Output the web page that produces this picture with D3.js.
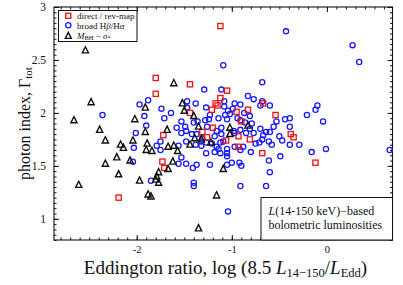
<!DOCTYPE html>
<html>
<head>
<meta charset="utf-8">
<script src="https://cdn.jsdelivr.net/npm/d3@7"></script>
<style>
body { margin:0; background:#fff; }
svg text { font-family: "Liberation Serif", "DejaVu Serif", serif; fill:#111; }
</style>
</head>
<body>
<div id="chart"></div>
<script>
////////////////////////////////////////////////////
// [Eddington ratio, photon index]
var revMap = [
	[-1.12,2.82],[-1.80,2.33],[-1.80,2.18],[-1.44,2.27],[-1.05,2.21],[-1.12,2.14],
	[-1.17,2.09],[-1.15,2.07],[-1.21,2.03],[-1.44,2.00],[-0.95,2.01],[-0.83,2.03],
	[-0.67,2.09],[-0.54,1.98],[-0.90,1.92],[-1.20,1.86],[-1.72,1.79],[-1.31,1.82],
	[-1.26,1.77],[-1.06,1.74],[-0.93,1.78],[-0.81,1.75],[-0.93,1.68],[-0.68,1.62],
	[-0.38,1.80],[-0.35,1.77],[-0.12,1.53],[-1.73,1.54],[-1.71,1.48],[-2.19,1.20]
];
var broadLines = [
	[-0.43,2.77],[0.27,2.64],[0.34,2.48],[-1.09,2.45],[-0.68,2.29],[-1.29,2.22],
	[-1.11,2.22],[-0.83,2.16],[-0.77,2.13],[-0.68,2.11],[-0.70,2.07],[-0.60,2.07],
	[-2.36,1.98],[-1.97,2.08],[-1.88,2.12],[-1.92,1.97],[-1.90,1.88],[-2.01,1.81],
	[-2.03,1.67],[-2.04,1.54],[-1.85,1.36],[-1.74,2.04],[-1.71,1.95],[-1.64,2.00],
	[-1.47,2.11],[-1.38,2.09],[-1.47,2.05],[-1.27,2.05],[-1.53,1.92],[-1.36,1.92],
	[-1.24,1.94],[-1.14,1.95],[-1.58,1.86],[-1.49,1.87],[-1.26,1.87],[-1.11,1.86],
	[-1.40,1.91],[-1.28,1.93],[-1.08,2.11],[-1.08,2.06],[-0.97,2.09],[-0.91,2.08],
	[-0.99,2.04],[-1.04,2.02],[-1.02,1.99],[-1.07,1.98],[-1.05,1.94],[-0.87,2.00],
	[-0.81,1.97],[-0.94,1.95],[-0.91,1.93],[-0.86,1.91],[-0.79,1.90],[-0.70,1.85],
	[-0.64,1.82],[-0.60,1.82],[-0.56,1.87],[-0.53,1.92],[-0.44,1.94],[-0.39,1.95],
	[-0.39,1.87],[-0.21,1.98],[-0.12,2.03],[-0.10,2.07],[-0.04,1.92],[-1.16,1.83],
	[-1.11,1.80],[-1.18,1.78],[-1.09,1.73],[-0.97,1.81],[-0.91,1.84],[-0.85,1.81],
	[-0.81,1.85],[-0.77,1.81],[-0.68,1.75],[-0.61,1.73],[-0.97,1.68],[-1.16,1.68],
	[-0.88,1.68],[-0.67,1.79],[-0.50,1.78],[-0.47,1.74],[-0.58,1.70],[-0.39,1.70],
	[-0.29,1.70],[-0.16,1.63],[-0.01,1.66],[0.66,1.65],[-0.49,1.59],[-0.61,1.55],
	[-0.60,1.44],[-0.64,1.31],[-0.91,1.31],[-1.04,1.07],[-1.21,1.71],[-1.12,1.72],
	[-1.05,1.66],[-1.05,1.62],[-1.05,1.59],[-1.18,1.63],[-1.27,1.62],[-0.91,1.65],
	[-0.80,1.63],[-1.23,1.51],[-1.05,1.51],[-1.00,1.53],[-0.92,1.53],[-0.90,1.50],
	[-0.75,1.71],[-0.71,1.72],[-1.32,1.73],[-1.79,1.69],[-1.75,1.73],[-1.75,1.65],
	[-1.38,1.70],[-1.32,1.69],[-1.27,1.72],[-1.53,1.58],[-1.56,1.52],[-1.48,1.52],
	[-1.41,1.48],[-1.37,1.51],[-1.40,1.34],[-1.40,1.31],[-1.53,1.81],[-1.48,1.73],
	[-1.56,1.69],[-1.37,1.80],[-1.14,1.66],[-1.12,1.62],[-1.42,1.80],[-1.48,1.83],
	[-1.23,1.98],[-0.98,1.83],[-1.31,1.76]
];
var mSigma = [
	[-2.54,2.59],[-1.61,2.28],[-2.48,2.10],[-2.66,1.93],[-1.91,2.05],[-2.02,1.94],
	[-1.52,2.09],[-1.50,2.02],[-1.40,1.97],[-1.68,1.84],[-1.35,1.87],[-2.39,1.84],
	[-2.33,1.74],[-2.17,1.70],[-2.14,1.67],[-2.21,1.58],[-2.07,1.55],[-2.33,1.52],
	[-2.04,1.74],[-1.91,1.82],[-1.89,1.71],[-1.90,1.65],[-1.84,1.64],[-1.67,1.68],
	[-1.61,1.69],[-1.57,1.64],[-2.19,1.42],[-2.61,1.32],[-1.97,1.36],[-1.77,1.44],
	[-1.79,1.40],[-1.77,1.34],[-1.80,1.37],[-1.62,1.54],[-1.67,1.47],[-1.88,1.23],
	[-1.85,1.21],[-1.35,0.91],[-1.16,1.22],[-1.44,1.70],[-1.39,1.76],[-1.22,1.72],
	[-1.09,1.47],[-1.02,1.86],[-1.02,1.80],[-0.83,1.88],[-1.32,1.75]
];
var xTicks = [-2, -1, 0];
var yTicks = [1, 1.5, 2, 2.5, 3];

////////////////////////////////////////////////////
var totalW = 403, totalH = 285;
var plotL = 54, plotR = 392.5, plotT = 7, plotB = 240;

var chart = d3.select("#chart").append("svg")
	.attr("width", totalW)
	.attr("height", totalH);

var x = d3.scaleLinear().domain([-2.87, 0.69]).range([plotL, plotR]);
var y = d3.scaleLinear().domain([0.8, 3]).range([plotB, plotT]);

/////////// AXES (ticks inward on all four sides)
var xMinor = d3.range(-28, 7).map(function(d){ return d/10; });
var yMinor = d3.range(16, 61).map(function(d){ return d/20; });
var fmt = function(d){ return String(d); };

function drawAxis(axis, tx, ty) {
	var g = chart.append("g")
		.attr("transform", "translate(" + tx + "," + ty + ")")
		.call(axis);
	g.select(".domain").remove();
	g.selectAll("line").attr("stroke", "#111").attr("stroke-width", 1);
	return g;
}
drawAxis(d3.axisBottom(x).tickValues(xMinor).tickSize(-2.5).tickFormat(""), 0, plotB);
drawAxis(d3.axisTop(x).tickValues(xMinor).tickSize(-2.5).tickFormat(""), 0, plotT);
drawAxis(d3.axisLeft(y).tickValues(yMinor).tickSize(-2.5).tickFormat(""), plotL, 0);
drawAxis(d3.axisRight(y).tickValues(yMinor).tickSize(-2.5).tickFormat(""), plotR, 0);

var xa = drawAxis(d3.axisBottom(x).tickValues(xTicks).tickSize(-5).tickPadding(6).tickFormat(fmt), 0, plotB);
drawAxis(d3.axisTop(x).tickValues(xTicks).tickSize(-5).tickFormat(""), 0, plotT);
var ya = drawAxis(d3.axisLeft(y).tickValues(yTicks).tickSize(-5).tickPadding(8).tickFormat(fmt), plotL, 0);
drawAxis(d3.axisRight(y).tickValues(yTicks).tickSize(-5).tickFormat(""), plotR, 0);
xa.selectAll("text").attr("font-size", 10.5).attr("font-family", "Liberation Serif").attr("fill", "#222");
ya.selectAll("text").attr("font-size", 11.5).attr("font-family", "Liberation Serif").attr("fill", "#222");

/////////// FRAME
chart.append("rect")
	.attr("x", plotL).attr("y", plotT)
	.attr("width", plotR - plotL).attr("height", plotB - plotT)
	.attr("fill", "none").attr("stroke", "#111").attr("stroke-width", 1.1);

/////////// MARKERS
var triPath = function(px, py, s) {
	return "M " + px + " " + (py - s*0.6) + " L " + (px + s/2) + " " + (py + s*0.4) +
		" L " + (px - s/2) + " " + (py + s*0.4) + " Z";
};
chart.selectAll("circle.broad")
	.data(broadLines)
	.enter().append("circle")
		.attr("class", "broad")
		.attr("cx", function(d){ return x(d[0]); })
		.attr("cy", function(d){ return y(d[1]); })
		.attr("r", 2.6)
		.attr("fill", "none").attr("stroke", "#1a1aff").attr("stroke-width", 1.3);
chart.selectAll("rect.rev")
	.data(revMap)
	.enter().append("rect")
		.attr("class", "rev")
		.attr("x", function(d){ return x(d[0]) - 2.6; })
		.attr("y", function(d){ return y(d[1]) - 2.6; })
		.attr("width", 5.2).attr("height", 5.2)
		.attr("fill", "none").attr("stroke", "#f01010").attr("stroke-width", 1.3);
chart.selectAll("path.msig")
	.data(mSigma)
	.enter().append("path")
		.attr("class", "msig")
		.attr("d", function(d){ return triPath(x(d[0]), y(d[1]), 6.2); })
		.attr("fill", "none").attr("stroke", "#111").attr("stroke-width", 1.4)
		.attr("stroke-linejoin", "miter");

/////////// LEGEND
var leg = chart.append("g");
leg.append("rect")
	.attr("x", 58.5).attr("y", 10.5).attr("width", 78.5).attr("height", 31)
	.attr("fill", "#fff").attr("stroke", "#111").attr("stroke-width", 1);
leg.append("rect").attr("x", 65.8).attr("y", 13.3).attr("width", 5).attr("height", 5)
	.attr("fill", "none").attr("stroke", "#f01010").attr("stroke-width", 1.3);
leg.append("circle").attr("cx", 68.3).attr("cy", 25.3).attr("r", 2.6)
	.attr("fill", "none").attr("stroke", "#1a1aff").attr("stroke-width", 1.3);
leg.append("path").attr("d", triPath(68.3, 36, 6))
	.attr("fill", "none").attr("stroke", "#111").attr("stroke-width", 1.4);
var lt = leg.append("g").attr("font-size", 9);
lt.append("text").attr("x", 77).attr("y", 18.8).text("direct / rev-map");
var t2 = lt.append("text").attr("x", 77).attr("y", 28.5);
t2.append("tspan").text("broad H");
t2.append("tspan").attr("font-style", "italic").text("β");
t2.append("tspan").text("/H");
t2.append("tspan").attr("font-style", "italic").text("α");
var t3 = lt.append("text").attr("x", 77).attr("y", 38.5);
t3.append("tspan").attr("font-style", "italic").text("M");
t3.append("tspan").attr("font-size", 6.5).attr("dy", 1.5).text("BH");
t3.append("tspan").attr("dy", -1.5).text(" − ");
t3.append("tspan").attr("font-style", "italic").text("σ");
t3.append("tspan").attr("font-size", 6.5).attr("dy", 1.5).text("*");

/////////// NOTE BOX
chart.append("rect")
	.attr("x", 261).attr("y", 197.5).attr("width", plotR - 261).attr("height", plotB - 197.5)
	.attr("fill", "#fff").attr("stroke", "#111").attr("stroke-width", 1);
var n1 = chart.append("text").attr("x", 268.5).attr("y", 215).attr("font-size", 12);
n1.append("tspan").attr("font-style", "italic").text("L");
n1.append("tspan").text("(14-150 keV)−based");
chart.append("text").attr("x", 268.5).attr("y", 229).attr("font-size", 12)
	.text("bolometric luminosities");

/////////// AXIS TITLES
var xl = chart.append("text")
	.attr("x", 225.5).attr("y", 273.5).attr("text-anchor", "middle").attr("font-size", 19);
xl.append("tspan").text("Eddington ratio, log (8.5 ");
xl.append("tspan").attr("font-style", "italic").text("L");
xl.append("tspan").attr("font-size", 12.5).attr("dy", 3.5).text("14−150");
xl.append("tspan").attr("dy", -3.5).text("/");
xl.append("tspan").attr("font-style", "italic").text("L");
xl.append("tspan").attr("font-size", 12.5).attr("dy", 3.5).text("Edd");
xl.append("tspan").attr("dy", -3.5).text(")");

var yl = chart.append("text")
	.attr("transform", "translate(30,123.5) rotate(-90)")
	.attr("text-anchor", "middle").attr("font-size", 16);
yl.append("tspan").text("photon index, Γ");
yl.append("tspan").attr("font-size", 11).attr("dy", 1.5).text("tot");
////////////////////////////////////////////////////
</script>
</body>
</html>
